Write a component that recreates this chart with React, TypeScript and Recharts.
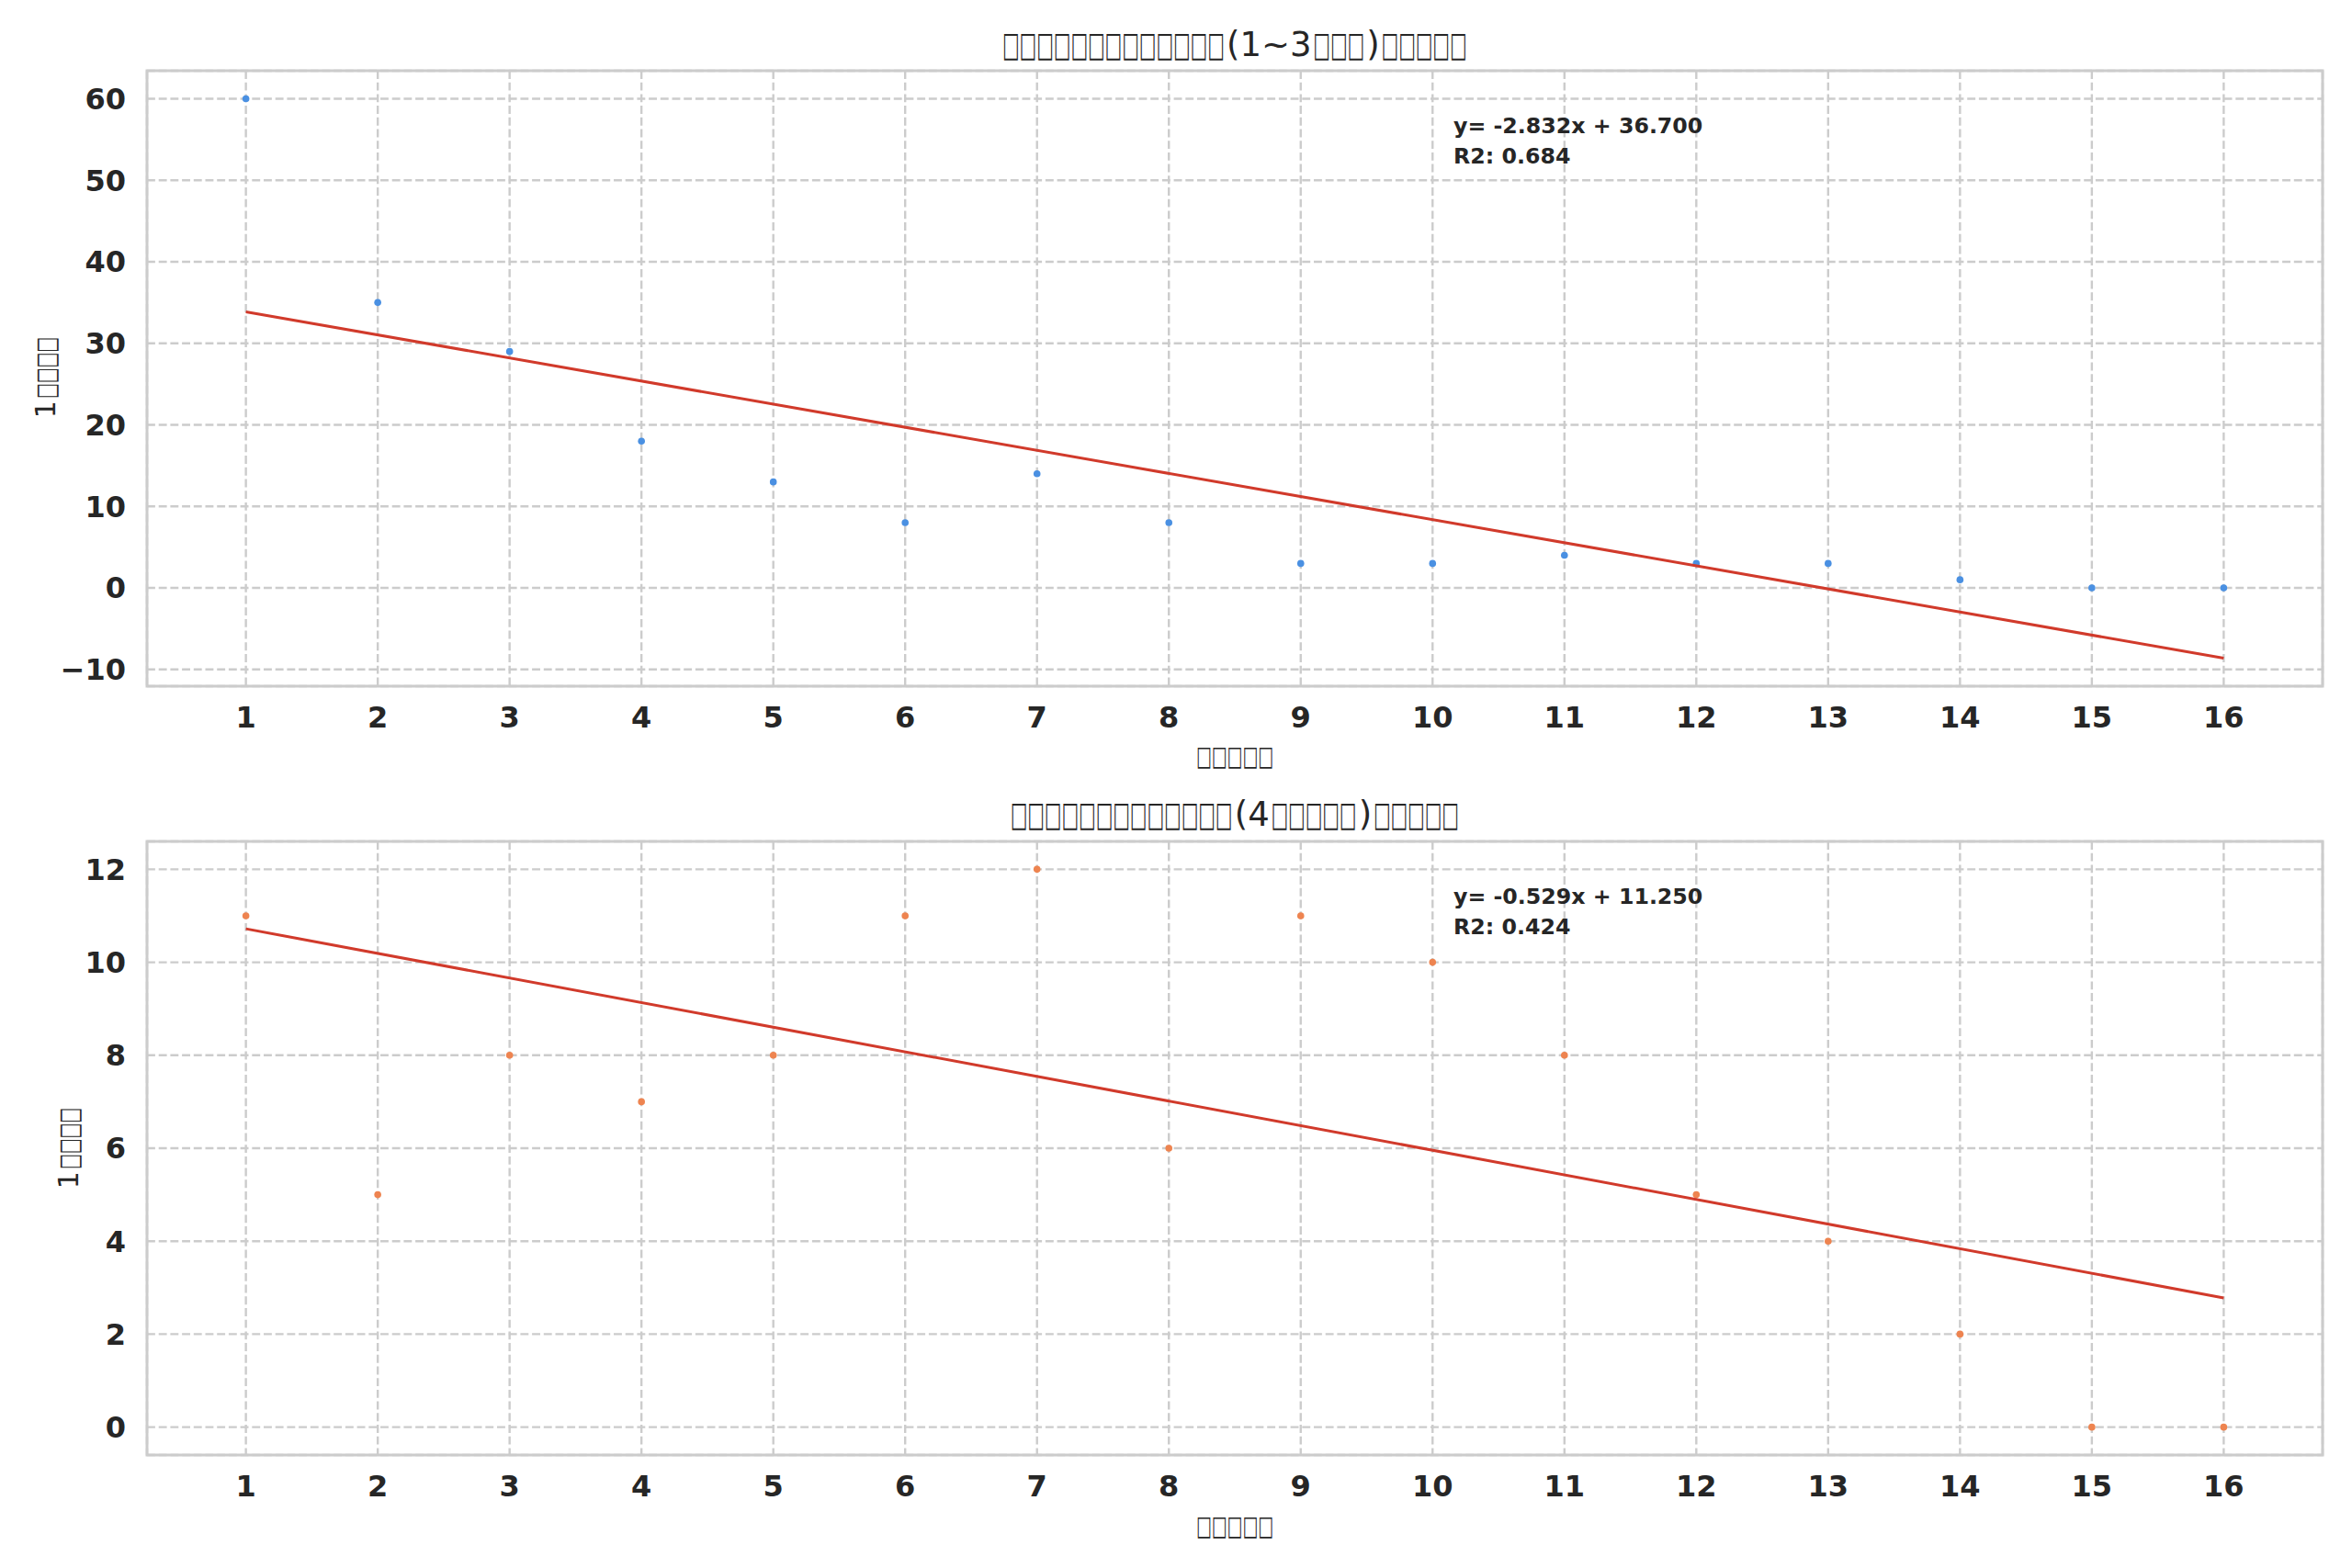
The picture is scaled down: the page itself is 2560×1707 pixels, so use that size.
import { CartesianGrid, ReferenceArea, Scatter, ScatterChart, XAxis, YAxis } from "recharts"

// weeks on the x axis
const weeks = [1, 2, 3, 4, 5, 6, 7, 8, 9, 10, 11, 12, 13, 14, 15, 16]

// daily counts, first period / later period
const earlyCounts = [60, 35, 29, 18, 13, 8, 14, 8, 3, 3, 4, 3, 3, 1, 0, 0]
const laterCounts = [11, 5, 8, 7, 8, 11, 12, 6, 11, 10, 8, 5, 4, 2, 0, 0]

const earlyTicks = [-10, 0, 10, 20, 30, 40, 50, 60]
const laterTicks = [0, 2, 4, 6, 8, 10, 12]

// titles / labels (glyphs missing in the reference are shown as boxes)
const earlyTitle = "□□□□□□□□□□□□□(1~3□□□)□□□□□"
const laterTitle = "□□□□□□□□□□□□□(4□□□□□)□□□□□"
const xLabel = "□□□□□"
const yLabel = "1□□□□"
const earlyNote = ["y= -2.832x + 36.700", "R2: 0.684"]
const laterNote = ["y= -0.529x + 11.250", "R2: 0.424"]

const W = 2560
const H = 1707
const TEXT = "#262626"
const GRID = "#cccccc"
const FIT = "#d13a2b"
const FONT = "DejaVu Sans"

// DejaVu Sans advances (em) for the few real glyphs in the labels
const ADV: Record<string, number> = { "(": 0.39, ")": 0.39, "1": 0.636, "3": 0.636, "4": 0.636, "~": 0.838 }

function fitLine(xs: number[], ys: number[]) {
  const n = xs.length
  const mx = xs.reduce((a, b) => a + b, 0) / n
  const my = ys.reduce((a, b) => a + b, 0) / n
  let sxy = 0
  let sxx = 0
  xs.forEach((x, i) => {
    sxy += (x - mx) * (ys[i] - my)
    sxx += (x - mx) * (x - mx)
  })
  const slope = sxy / sxx
  const icpt = my - slope * mx
  const x0 = xs[0]
  const x1 = xs[n - 1]
  return [
    { x: x0, y: icpt + slope * x0 },
    { x: x1, y: icpt + slope * x1 },
  ]
}

function pad(lo: number, hi: number): [number, number] {
  const m = (hi - lo) * 0.05
  return [lo - m, hi + m]
}

// one text element; the "tofu" boxes are squeezed narrow like the missing glyphs in the reference
function TofuText({ s, cx, y, size, boxW, rotate }: { s: string; cx: number; y: number; size: number; boxW: number; rotate?: boolean }) {
  const runs: { t: string; box: boolean }[] = []
  for (const ch of s) {
    const box = ch === "□"
    const last = runs[runs.length - 1]
    if (last && last.box === box) last.t += ch
    else runs.push({ t: ch, box })
  }
  const widths = runs.map((r) => (r.box ? r.t.length * boxW : [...r.t].reduce((a, c) => a + (ADV[c] ?? 0.6) * size, 0)))
  const gap = 2
  const total = widths.reduce((a, b) => a + b, 0) + gap * (runs.length - 1)
  return (
    <text
      x={cx - total / 2}
      y={y}
      transform={rotate ? `rotate(-90 ${cx} ${y})` : undefined}
      fontSize={size}
      fill={TEXT}
      fontFamily={FONT}
    >
      {runs.map((r, i) =>
        r.box ? (
          <tspan key={i} dx={i ? gap : 0} textLength={widths[i]} lengthAdjust="spacingAndGlyphs">
            {r.t}
          </tspan>
        ) : (
          <tspan key={i} dx={i ? gap : 0}>
            {r.t}
          </tspan>
        ),
      )}
    </text>
  )
}

type PanelProps = {
  top: number
  counts: number[]
  ticks: number[]
  color: string
  marginTop: number
  marginBottom: number
}

function Panel({ top, counts, ticks, color, marginTop, marginBottom }: PanelProps) {
  const pts = weeks.map((w, i) => ({ x: w, y: counts[i] }))
  const fit = fitLine(weeks, counts)
  const ys = counts.concat(fit.map((p) => p.y))
  const yDom = pad(Math.min(...ys), Math.max(...ys))
  const xDom = pad(weeks[0], weeks[weeks.length - 1])
  const tickStyle = { fontSize: 32, fontWeight: "bold", fill: TEXT, fontFamily: FONT }

  return (
    <div style={{ position: "absolute", left: 0, top, width: W, height: 854 }}>
      <ScatterChart width={W} height={854} margin={{ top: marginTop, right: 32, bottom: marginBottom, left: 60 }}>
        <CartesianGrid stroke={GRID} strokeWidth={2.4} strokeDasharray="8.9 3.8" />
        <XAxis
          type="number"
          dataKey="x"
          domain={xDom}
          ticks={weeks}
          interval={0}
          allowDataOverflow
          tickLine={false}
          axisLine={false}
          tickSize={0}
          tickMargin={22}
          height={60}
          tick={tickStyle}
        />
        <YAxis
          type="number"
          dataKey="y"
          domain={yDom}
          ticks={ticks}
          interval={0}
          allowDataOverflow
          tickLine={false}
          axisLine={false}
          tickSize={0}
          tickMargin={23}
          width={100}
          tick={tickStyle}
          tickFormatter={(v: number) => String(v).replace("-", "\u2212")}
        />
        <ReferenceArea
          x1={xDom[0]}
          x2={xDom[1]}
          y1={yDom[0]}
          y2={yDom[1]}
          fill="none"
          stroke={GRID}
          strokeWidth={3}
          ifOverflow="visible"
        />
        <Scatter
          data={pts}
          isAnimationActive={false}
          shape={(p: any) => <circle cx={p.cx} cy={p.cy} r={3.8} fill={color} />}
        />
        <Scatter
          data={fit}
          isAnimationActive={false}
          line={{ stroke: FIT, strokeWidth: 3 }}
          shape={() => <g />}
        />
      </ScatterChart>
    </div>
  )
}

export default function App() {
  const note = { fontSize: 23.7, fontWeight: "bold", fill: TEXT, fontFamily: FONT }
  return (
    <div style={{ position: "absolute", left: 0, top: 0, width: W, height: H, background: "#fff" }}>
      <Panel top={0} counts={earlyCounts} ticks={earlyTicks} color="#4a90e2" marginTop={77} marginBottom={47} />
      <Panel top={853} counts={laterCounts} ticks={laterTicks} color="#ee8450" marginTop={63} marginBottom={63} />
      <svg width={W} height={H} style={{ position: "absolute", left: 0, top: 0, pointerEvents: "none" }}>
        <TofuText s={earlyTitle} cx={1344} y={61} size={37} boxW={18.6} />
        <TofuText s={laterTitle} cx={1344} y={899} size={37} boxW={18.6} />
        <TofuText s={xLabel} cx={1344} y={833} size={30} boxW={16.8} />
        <TofuText s={xLabel} cx={1344} y={1671} size={30} boxW={16.8} />
        <TofuText s={yLabel} cx={60} y={411} size={30} boxW={16.8} rotate />
        <TofuText s={yLabel} cx={85} y={1250} size={30} boxW={16.8} rotate />
        {earlyNote.map((s, i) => (
          <text key={s} x={1582} y={145 + i * 33} {...note}>
            {s}
          </text>
        ))}
        {laterNote.map((s, i) => (
          <text key={s} x={1582} y={984 + i * 33} {...note}>
            {s}
          </text>
        ))}
      </svg>
    </div>
  )
}
